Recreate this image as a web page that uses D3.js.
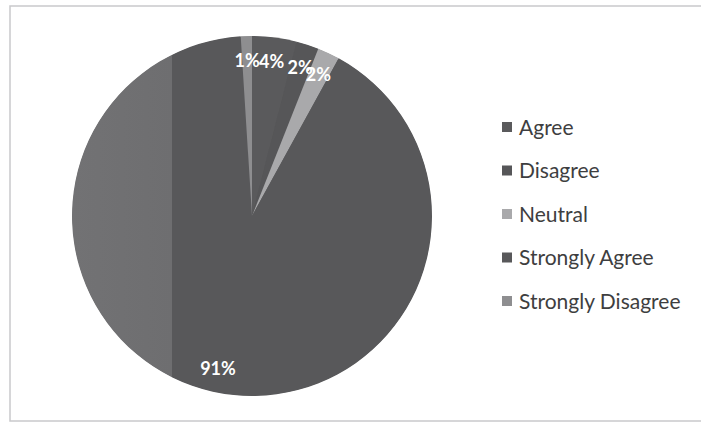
<!DOCTYPE html>
<html>
<head>
<meta charset="utf-8">
<script src="https://cdn.jsdelivr.net/npm/d3@7"></script>
<style>
  html, body { margin: 0; padding: 0; background: #ffffff; }
  svg { display: block; }
</style>
</head>
<body>
<svg id="chart" width="701" height="428"></svg>
<script>
// ---- data ----
const categories = ["Agree", "Disagree", "Neutral", "Strongly Agree", "Strongly Disagree"];
const values = [4, 2, 2, 91, 1];
const labels = ["4%", "2%", "2%", "91%", "1%"];
const colors = ["#5a5a5c", "#565658", "#a9a9ab", "#58585a", "#8e8e90"];

const svg = d3.select("#chart");

// chart frame
svg.append("rect")
  .attr("x", 10).attr("y", 6)
  .attr("width", 700).attr("height", 415)
  .attr("fill", "#ffffff")
  .attr("stroke", "#c9c9cb").attr("stroke-width", 1.5);

const cx = 252, cy = 216, r = 180;

// lighter band on the left side of the scanned pie
const defs = svg.append("defs");
const grad = defs.append("linearGradient")
  .attr("id", "saGrad")
  .attr("gradientUnits", "userSpaceOnUse")
  .attr("x1", -r).attr("x2", r).attr("y1", 0).attr("y2", 0);
const split = (172 - (cx - r)) / (2 * r);
grad.append("stop").attr("offset", 0).attr("stop-color", "#727274");
grad.append("stop").attr("offset", split).attr("stop-color", "#6e6e70");
grad.append("stop").attr("offset", split).attr("stop-color", "#58585a");
grad.append("stop").attr("offset", 1).attr("stop-color", "#58585a");

const pie = d3.pie().value(d => d).sort(null);
const arcs = pie(values);
const arc = d3.arc().innerRadius(0).outerRadius(r);
const labelArc = d3.arc().innerRadius(156).outerRadius(156);

const g = svg.append("g").attr("transform", `translate(${cx},${cy})`);

// base disc (hides anti-aliasing seams between dark slices)
g.append("circle").attr("r", r - 0.5).attr("fill", "#58585a");

g.selectAll("path.slice")
  .data(arcs)
  .join("path")
  .attr("class", "slice")
  .attr("d", arc)
  .attr("fill", (d, i) => i === 3 ? "url(#saGrad)" : colors[i])
  .attr("stroke", "none");

g.selectAll("text.lbl")
  .data(arcs)
  .join("text")
  .attr("class", "lbl")
  .attr("transform", d => `translate(${labelArc.centroid(d)})`)
  .attr("text-anchor", "middle")
  .attr("dy", "0.36em")
  .attr("font-family", "Lato, 'Open Sans', sans-serif")
  .attr("font-weight", "bold")
  .attr("font-size", 18)
  .attr("fill", "#ffffff")
  .text((d, i) => labels[i]);

// legend
const legY = d3.scalePoint().domain(categories).range([127, 301]);
const items = svg.append("g").selectAll("g.item")
  .data(categories)
  .join("g")
  .attr("class", "item")
  .attr("transform", d => `translate(502,${legY(d)})`);
items.append("rect")
  .attr("x", 0).attr("y", -5)
  .attr("width", 10).attr("height", 10)
  .attr("fill", (d, i) => colors[i]);
items.append("text")
  .attr("x", 17).attr("y", 0)
  .attr("dy", "0.36em")
  .attr("font-family", "Lato, 'Open Sans', sans-serif")
  .attr("font-size", 21)
  .attr("fill", "#3e3e40")
  .text(d => d);
</script>
</body>
</html>
